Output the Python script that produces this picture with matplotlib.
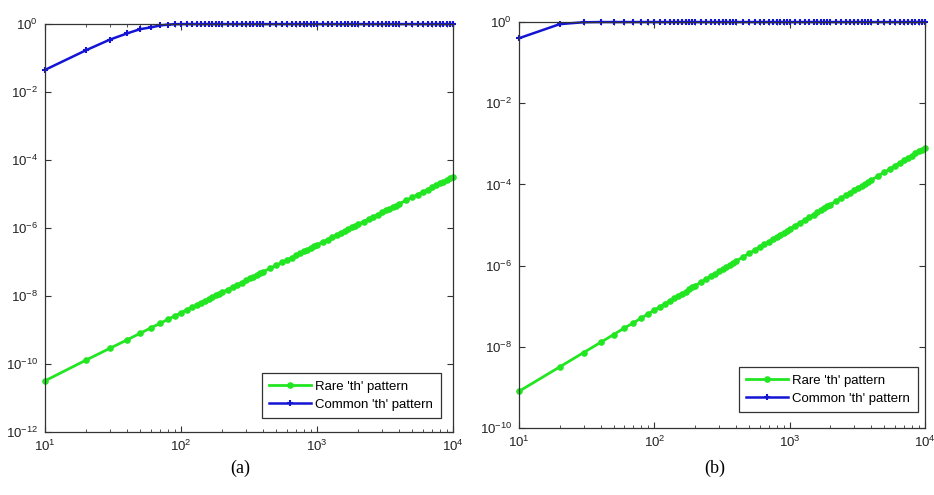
import matplotlib
matplotlib.use('Agg')
import matplotlib.pyplot as plt
from matplotlib.ticker import LogLocator, NullLocator

plt.rcParams['font.family'] = ['Liberation Sans', 'DejaVu Sans']
plt.rcParams['mathtext.default'] = 'regular'
plt.rcParams['axes.unicode_minus'] = False

# sample sizes (shared x grid of both panels)
n_vals = [10, 20, 30, 40, 50, 60, 70, 80, 90, 100,
          110, 120, 130, 140, 150, 160, 170, 180, 190, 200,
          220, 240, 260, 280, 300, 320, 340, 360, 380, 400,
          450, 500, 550, 600, 650, 700, 750, 800, 850, 900, 950, 1000,
          1100, 1200, 1300, 1400, 1500, 1600, 1700, 1800, 1900, 2000,
          2200, 2400, 2600, 2800, 3000, 3200, 3400, 3600, 3800, 4000,
          4500, 5000, 5500, 6000, 6500, 7000, 7500, 8000, 8500, 9000, 9500, 10000]

# panel (a)
rare_a = [3.2e-11, 1.3e-10, 2.9e-10, 5.1e-10, 8.0e-10, 1.15e-9, 1.57e-9, 2.05e-9, 2.6e-9, 3.2e-9,
          3.9e-9, 4.6e-9, 5.4e-9, 6.3e-9, 7.2e-9, 8.2e-9, 9.2e-9, 1.04e-8, 1.16e-8, 1.28e-8,
          1.55e-8, 1.84e-8, 2.16e-8, 2.5e-8, 2.9e-8, 3.3e-8, 3.7e-8, 4.1e-8, 4.6e-8, 5.1e-8,
          6.5e-8, 8.0e-8, 9.7e-8, 1.15e-7, 1.35e-7, 1.57e-7, 1.8e-7, 2.05e-7, 2.3e-7, 2.6e-7, 2.9e-7, 3.2e-7,
          3.9e-7, 4.6e-7, 5.4e-7, 6.3e-7, 7.2e-7, 8.2e-7, 9.2e-7, 1.04e-6, 1.16e-6, 1.28e-6,
          1.55e-6, 1.84e-6, 2.16e-6, 2.5e-6, 2.9e-6, 3.3e-6, 3.7e-6, 4.1e-6, 4.6e-6, 5.1e-6,
          6.5e-6, 8.0e-6, 9.7e-6, 1.15e-5, 1.35e-5, 1.57e-5, 1.8e-5, 2.05e-5, 2.3e-5, 2.6e-5, 2.9e-5, 3.2e-5]
common_a = [0.045, 0.17, 0.35, 0.53, 0.71, 0.80, 0.91, 0.97, 0.99] + [1.0] * 65

# panel (b)
rare_b = [8.0e-10, 3.2e-9, 7.2e-9, 1.28e-8, 2.0e-8, 2.9e-8, 3.9e-8, 5.1e-8, 6.5e-8, 8.0e-8,
          9.7e-8, 1.15e-7, 1.35e-7, 1.57e-7, 1.8e-7, 2.05e-7, 2.3e-7, 2.6e-7, 2.9e-7, 3.2e-7,
          3.9e-7, 4.6e-7, 5.4e-7, 6.3e-7, 7.2e-7, 8.2e-7, 9.2e-7, 1.04e-6, 1.16e-6, 1.28e-6,
          1.62e-6, 2.0e-6, 2.4e-6, 2.9e-6, 3.4e-6, 3.9e-6, 4.5e-6, 5.1e-6, 5.8e-6, 6.5e-6, 7.2e-6, 8.0e-6,
          9.7e-6, 1.15e-5, 1.35e-5, 1.57e-5, 1.8e-5, 2.05e-5, 2.3e-5, 2.6e-5, 2.9e-5, 3.2e-5,
          3.9e-5, 4.6e-5, 5.4e-5, 6.3e-5, 7.2e-5, 8.2e-5, 9.2e-5, 1.04e-4, 1.16e-4, 1.28e-4,
          1.62e-4, 2.0e-4, 2.4e-4, 2.9e-4, 3.4e-4, 3.9e-4, 4.5e-4, 5.1e-4, 5.8e-4, 6.5e-4, 7.2e-4, 8.0e-4]
common_b = [0.40, 0.89, 0.99] + [1.0] * 71

VERDE = '#22e622'
AZUL = '#1414d4'

fig = plt.figure(figsize=(9.34, 4.95), dpi=100)
ax_a = fig.add_axes([0.0482, 0.1273, 0.4368, 0.824])
ax_b = fig.add_axes([0.5557, 0.1354, 0.4347, 0.820])

paineis = [
    (ax_a, rare_a, common_a, 1e-12, [1e-12, 1e-10, 1e-8, 1e-6, 1e-4, 1e-2, 1], (262, 418), '(a)', 240),
    (ax_b, rare_b, common_b, 1e-10, [1e-10, 1e-8, 1e-6, 1e-4, 1e-2, 1], (739, 412), '(b)', 715),
]

for ax, rare, common, ymin, yt, leg, rotulo, xr in paineis:
    ax.loglog(n_vals, rare, '.-', color=VERDE, lw=2.0, ms=7.5, clip_on=False,
              label="Rare 'th' pattern")
    ax.loglog(n_vals, common, '+-', color=AZUL, lw=1.8, ms=5, mew=1.5, clip_on=False,
              label="Common 'th' pattern")
    ax.set_xlim(10, 1e4)
    ax.set_ylim(ymin, 1)
    ax.set_yticks(yt)
    ax.yaxis.set_minor_locator(NullLocator())
    ax.xaxis.set_major_locator(LogLocator(base=10, numticks=10))
    ax.xaxis.set_minor_locator(LogLocator(base=10, subs=range(2, 10), numticks=20))
    ax.tick_params(which='both', direction='in', top=True, right=True, labelsize=9.5,
                   color='#333333', labelcolor='#222222', pad=5)
    ax.tick_params(which='major', length=4)
    ax.tick_params(which='minor', length=2.5)
    for s in ax.spines.values():
        s.set_color('#333333')
        s.set_linewidth(0.9)
    x0, y1 = leg
    lg = ax.legend(loc='lower left', fontsize=9.5, fancybox=False, framealpha=1,
                   edgecolor='#333333', borderpad=0.55, handlelength=3.2, labelspacing=0.45,
                   handletextpad=0.3, borderaxespad=0,
                   bbox_to_anchor=(x0 / 934, 1 - y1 / 495), bbox_transform=fig.transFigure)
    lg.get_frame().set_linewidth(0.9)
    fig.text(xr / 934, 1 - 468 / 495, rotulo, family='Liberation Serif', fontsize=13,
             ha='center', va='center')

plt.savefig('out.png', dpi=100)
plt.close()
